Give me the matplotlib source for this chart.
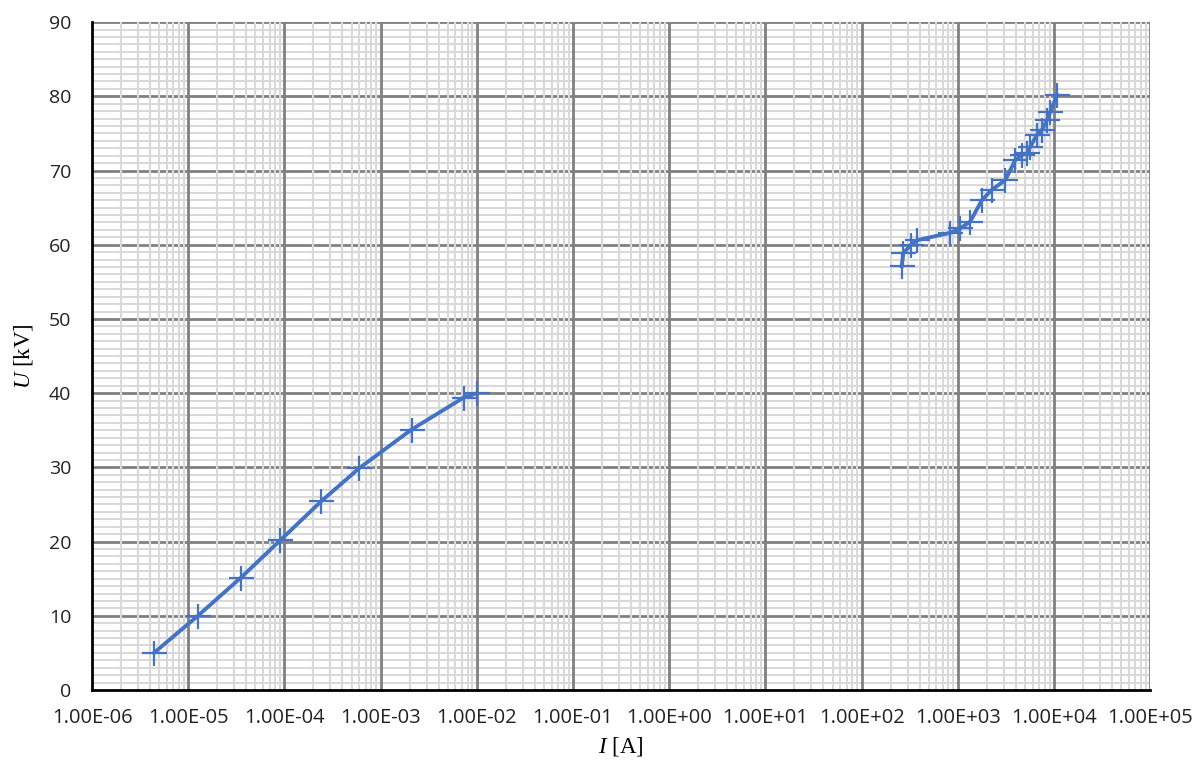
import matplotlib
matplotlib.use("Agg")
import matplotlib.pyplot as plt
from matplotlib.ticker import FuncFormatter

# Low-current branch (A, kV)
i_low = [4.4e-6, 1.26e-5, 3.5e-5, 9.1e-5, 2.4e-4, 6.0e-4, 2.1e-3, 7.3e-3, 1.0e-2]
u_low = [5.0, 10.0, 15.1, 20.2, 25.4, 29.9, 35.1, 39.4, 40.0]

# High-current branch (A, kV)
i_high = [261, 272, 327, 374, 832, 1057, 1343, 1778, 2259, 3111, 3956,
          4642, 5237, 5662, 6653, 7500, 8452, 9155, 10740]
u_high = [57.1, 58.9, 60.0, 60.6, 61.6, 62.2, 63.1, 66.0, 67.4, 68.7, 71.4,
          72.1, 72.3, 73.2, 74.8, 75.5, 76.8, 77.9, 80.2]

x_decades = list(range(-6, 6))
y_major = list(range(0, 91, 10))

blue = "#4472C4"
plt.rcParams["mathtext.fontset"] = "custom"
plt.rcParams["mathtext.it"] = "Liberation Serif:italic"
plt.rcParams["mathtext.rm"] = "Liberation Serif"

fig = plt.figure(figsize=(11.97, 7.62), dpi=100)
ax = fig.add_axes([0.0769, 0.0945, 0.884, 0.8765])

ax.set_xscale("log")
ax.set_xlim(1e-6, 1e5)
ax.set_ylim(0, 90)

# gridlines drawn by hand to get the Excel-like stacking order
minor_c, major_c = "#D9D9D9", "#808080"
for v in range(1, 90):
    if v % 10:
        ax.axhline(v, color=minor_c, lw=1.5, zorder=0.1)
for v in y_major[1:]:
    ax.axhline(v, color=major_c, lw=2, zorder=0.2)
for d in x_decades[:-1]:
    for m in range(2, 10):
        ax.axvline(m * 10.0 ** d, color=minor_c, lw=1.5, zorder=0.3)
for d in x_decades[1:]:
    ax.axvline(10.0 ** d, color=major_c, lw=2, zorder=0.4)

for xs, ys in [(i_low, u_low), (i_high, u_high)]:
    ax.plot(xs, ys, color=blue, lw=2.8, marker="+", ms=18, mew=1.6, zorder=3)

ax.set_xticks([10.0 ** d for d in x_decades])
ax.set_xticks([], minor=True)
ax.set_yticks(y_major)
ax.xaxis.set_major_formatter(FuncFormatter(lambda v, p: f"{v:.2E}"))

for s in ["top", "right"]:
    ax.spines[s].set_visible(False)
for s in ["left", "bottom"]:
    ax.spines[s].set_linewidth(2)
    ax.spines[s].set_color("black")
    ax.spines[s].set_zorder(4)

ax.tick_params(which="both", length=0)
ax.tick_params(axis="x", pad=13, labelsize=14.5)
ax.tick_params(axis="y", pad=15, labelsize=14)
for lab in ax.get_xticklabels() + ax.get_yticklabels():
    lab.set_family("Open Sans")
    lab.set_color("#222222")

ax.set_xlabel(r"$\it{I}$ [A]", fontsize=16.5, labelpad=5, family="Liberation Serif")
ax.set_ylabel(r"$\it{U}$ [kV]", fontsize=16.5, labelpad=10, family="Liberation Serif")

fig.savefig("out.png", dpi=100)
